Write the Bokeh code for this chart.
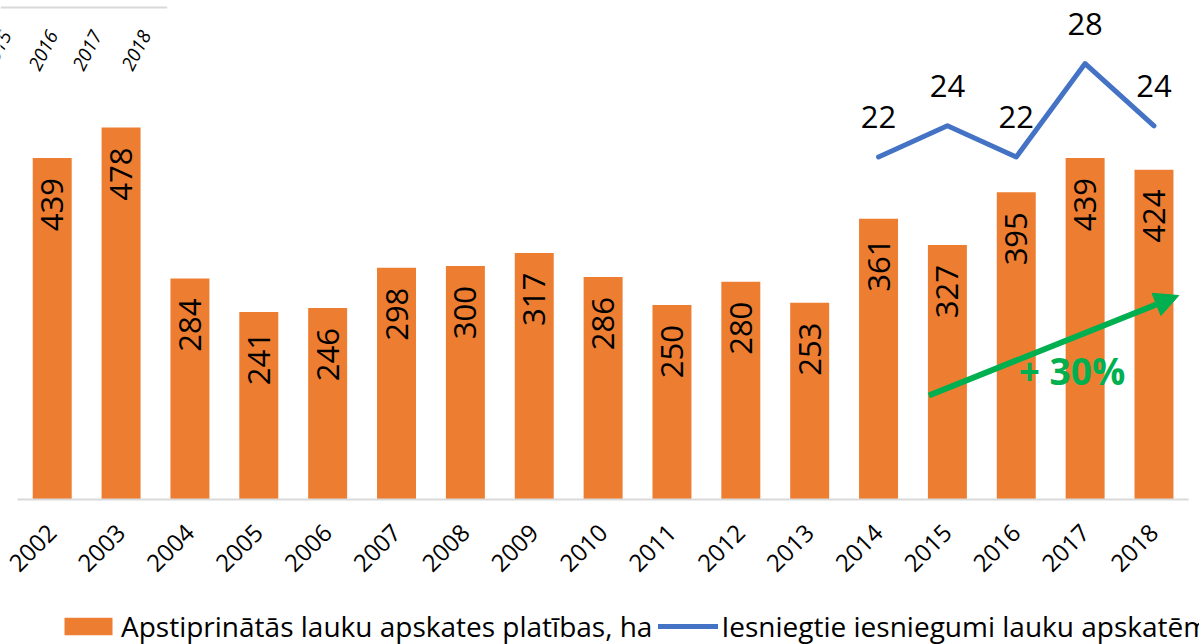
from math import pi, radians
from bokeh.plotting import figure
from bokeh.layouts import column
from bokeh.models import Range1d, FixedTicker, Legend, LegendItem, Arrow, NormalHead, ColumnDataSource
from bokeh.core.properties import value
from bokeh.embed import file_html
from bokeh.resources import INLINE

# ---- data ----
years = [2002, 2003, 2004, 2005, 2006, 2007, 2008, 2009, 2010,
         2011, 2012, 2013, 2014, 2015, 2016, 2017, 2018]
tick_labels = [str(y) for y in years]
area_ha = [439, 478, 284, 241, 246, 298, 300, 317, 286,
           250, 280, 253, 361, 327, 395, 439, 424]
sub_years = [2014, 2015, 2016, 2017, 2018]
submissions = [22, 24, 22, 28, 24]
area_label = "Apstiprinātās lauku apskates platības, ha"
sub_label = "Iesniegtie iesniegumi lauku apskatēm"
growth_text = "+ 30%"
stray_labels = ["2015", "2016", "2017", "2018"]   # cut-off labels of a neighbouring chart

# ---- style ----
FONT = "Open Sans"
ORANGE = "#ED7D31"
BLUE = "#4472C4"
GREEN = "#00B050"
TEXT = "#000000"

bars_src = ColumnDataSource(dict(x=years, top=area_ha, lbl=[str(v) for v in area_ha]))
line_src = ColumnDataSource(dict(x=sub_years, y=submissions, lbl=[str(v) for v in submissions]))

p = figure(width=1199, height=605,
           x_range=Range1d(2001.249, 2018.661),
           y_range=Range1d(0, 641.4),
           y_axis_location=None,
           output_backend="svg", toolbar_location=None,
           min_border_left=0, min_border_right=0,
           min_border_top=0, min_border_bottom=106)
p.extra_y_ranges = {"cnt": Range1d(0, 32.05)}
p.outline_line_color = None
p.xgrid.visible = False
p.ygrid.visible = False
p.background_fill_color = "white"
p.border_fill_color = "white"

# bars
p.vbar(x="x", top="top", source=bars_src, width=0.566, fill_color=ORANGE, line_color=None)
p.text(x="x", y="top", text="lbl", source=bars_src,
       angle=pi / 2, text_align="right", text_baseline="middle", y_offset=20,
       text_font=value(FONT), text_font_size="31px", text_color=TEXT)

# line on secondary scale
p.line(x="x", y="y", source=line_src, y_range_name="cnt",
       line_color=BLUE, line_width=5, line_join="round", line_cap="round")
p.text(x="x", y="y", text="lbl", source=line_src, y_range_name="cnt",
       text_align="center", text_baseline="alphabetic", y_offset=-40,
       text_font=value(FONT), text_font_size="31px", text_color=TEXT)

# growth arrow + label
p.add_layout(Arrow(end=NormalHead(size=24, fill_color=GREEN, line_color=GREEN, line_width=1),
                   x_start=2014.73, y_start=133.7, x_end=2018.36, y_end=262.2,
                   line_color=GREEN, line_width=6))
p.text(x=[2016.81], y=[165.8], text=[growth_text],
       text_align="center", text_baseline="alphabetic",
       text_font=value(FONT), text_font_style="bold", text_font_size="37px", text_color=GREEN)

# stray fragment of a neighbouring chart (top-left)
p.segment(x0=[2001.249], y0=[632.4], x1=[2003.67], y1=[632.4], line_color="#D9D9D9", line_width=2)
p.text(x=[2001.198, 2001.874, 2002.512, 2003.224], y=[577.1] * 4, text=stray_labels,
       angle=radians(63), text_align="center", text_baseline="middle",
       text_font=value(FONT), text_font_style="italic", text_font_size="19px", text_color=TEXT)

# x axis
ax = p.xaxis[0]
ax.ticker = FixedTicker(ticks=years)
ax.major_label_overrides = {y: s for y, s in zip(years, tick_labels)}
ax.major_label_orientation = pi / 4
ax.major_label_text_font = FONT
ax.major_label_text_font_size = "24px"
ax.major_label_text_color = TEXT
ax.major_tick_line_color = None
ax.minor_tick_line_color = None
ax.major_tick_out = 0
ax.major_tick_in = 0
ax.axis_line_color = "#D9D9D9"
ax.axis_line_width = 2
ax.bounds = (2001.5, 2018.5)
ax.major_label_standoff = 29

# ---- legend strip (same series, drawn off-range so only the legend shows) ----
lg = figure(width=1199, height=39, x_range=Range1d(0, 1), y_range=Range1d(0, 1),
            x_axis_location=None, y_axis_location=None,
            output_backend="svg", toolbar_location=None,
            min_border_left=0, min_border_right=0, min_border_top=0, min_border_bottom=0)
lg.outline_line_color = None
lg.xgrid.visible = False
lg.ygrid.visible = False
lg_bar = lg.vbar(x="x", top="top", source=bars_src, width=0.566, fill_color=ORANGE, line_color=None)
lg_line = lg.line(x="x", y="y", source=line_src, line_color=BLUE, line_width=5,
                  line_join="round", line_cap="round")
legend = Legend(items=[LegendItem(label=area_label, renderers=[lg_bar]),
                       LegendItem(label=sub_label, renderers=[lg_line])],
                orientation="horizontal", location=(58, -1),
                margin=0, padding=0, spacing=6, label_standoff=3,
                glyph_width=60, glyph_height=22,
                label_text_font=FONT, label_text_font_size="28px", label_text_color=TEXT,
                border_line_color=None, background_fill_alpha=0)
lg.add_layout(legend)

layout = column(p, lg, spacing=0)
open("out.html", "w").write(file_html(layout, INLINE))
